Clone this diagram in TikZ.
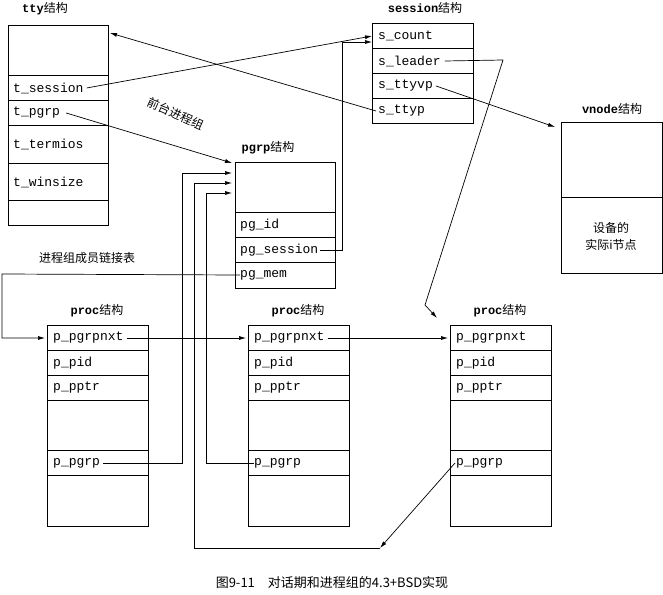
\documentclass[tikz,border=0pt]{standalone}
\usepackage{fontspec}
\setmonofont{Liberation Mono}
\newfontfamily\cjk{Noto Sans CJK SC}
\usetikzlibrary{arrows.meta}
\begin{document}
\begin{tikzpicture}[x=1pt,y=-1pt,
  fld/.style={anchor=west,font=\fontsize{13}{13}\selectfont\ttfamily,inner sep=0pt},
  ttl/.style={font=\fontsize{12}{12}\selectfont},
  box/.style={draw,line width=0.8pt},
  arr/.style={-{Latex[length=7pt,width=4pt]},line width=0.7pt},
  ln/.style={line width=0.7pt}]
\useasboundingbox (0,0) rectangle (663,594);
% tty
\node[ttl] (ttyt) at (45,9) {\ttfamily\bfseries tty\cjk\mdseries 结构};
\draw[box] (8,25) rectangle (108,225);
\foreach \y in {75,100,125,163,200} \draw[box] (8,\y)--(108,\y);
\node[fld] (tsess) at (13,88) {t\_session};
\node[fld] (tpgrp) at (13,113) {t\_pgrp};
\node[fld] (tterm) at (13,144) {t\_termios};
\node[fld] (twin) at (13,182) {t\_winsize};
\coordinate (ttytop) at (110,33);
% session
\node[ttl] (sesst) at (425,8) {\ttfamily\bfseries session\cjk\mdseries 结构};
\draw[box] (372,23) rectangle (473,123);
\foreach \y in {48,73,98} \draw[box] (372,\y)--(473,\y);
\node[fld] (scount) at (378,36) {s\_count};
\node[fld] (sleader) at (378,61) {s\_leader};
\node[fld] (sttyvp) at (378,86) {s\_ttyvp};
\node[fld] (sttyp) at (378,111) {s\_ttyp};
% vnode
\node[ttl] (vnodet) at (612,109) {\ttfamily\bfseries vnode\cjk\mdseries 结构};
\draw[box] (561,122) rectangle (662,273);
\draw[box] (561,197)--(662,197);
\node[align=center,font=\cjk\fontsize{12}{17}\selectfont] (vtxt) at (611,236) {设备的\\实际i节点};
% pgrp
\node[ttl] (pgrpt) at (268,148) {\ttfamily\bfseries pgrp\cjk\mdseries 结构};
\draw[box] (235,162) rectangle (335,288);
\foreach \y in {212,237,262} \draw[box] (235,\y)--(335,\y);
\node[fld] (pgid) at (240,225) {pg\_id};
\node[fld] (pgsess) at (240,250) {pg\_session};
\node[fld] (pgmem) at (240,275) {pg\_mem};
% procs
\foreach \n/\x in {1/47,2/248,3/450}{
  \node[ttl] (proct\n) at (\x+50,311) {\ttfamily\bfseries proc\cjk\mdseries 结构};
  \draw[box] (\x,325) rectangle (\x+101,526);
  \foreach \y in {350,375,400,450,475} \draw[box] (\x,\y)--(\x+101,\y);
  \node[fld] (pnxt\n) at (\x+6,338) {p\_pgrpnxt};
  \node[fld] (ppid\n) at (\x+6,363) {p\_pid};
  \node[fld] (ppptr\n) at (\x+6,388) {p\_pptr};
  \node[fld] (ppgrp\n) at (\x+6,463) {p\_pgrp};
}
\node[font=\cjk\fontsize{12}{12}\selectfont] (memlbl) at (87,258) {进程组成员链接表};
\node[font=\cjk\fontsize{12}{12}\selectfont,rotate=-24,inner sep=1pt] (fglbl) at (176,114) {前台进程组};
\node[font=\cjk\fontsize{13}{13}\selectfont] (cap) at (332,583) {图9-11\quad 对话期和进程组的4.3+BSD实现};
% connectors
\draw[arr] ([xshift=3pt]tsess.east) -- (372,36);
\draw[arr] ([xshift=-2pt]sttyp.west) -- (ttytop);
\draw[arr] ([xshift=6pt]tpgrp.east) -- (232,163);
\draw[arr] ([xshift=2pt]pgsess.east) -- (342,250) -- (342,42) -- (372,42);
\draw[ln] ([xshift=4pt]sleader.east) -- (503,60) -- (425,305);
\draw[arr] (425,305) -- (437,318);
\draw[arr] ([xshift=3pt]sttyvp.east) -- (555,127);
\draw[arr] (pgmem.west) -- (2,274) -- (2,338) -- (45,338);
\draw[arr] ([xshift=3pt]pnxt1.east) -- (246,338);
\draw[arr] ([xshift=3pt]pnxt2.east) -- (448,338);
\draw[arr] ([xshift=3pt]ppgrp1.east) -- (182,463) -- (182,173) -- (232,173);
\draw[arr] (ppgrp2.west) -- (206,463) -- (206,193) -- (232,193);
\draw[arr] ([xshift=-1pt]ppgrp3.west) -- (380,548);
\draw[arr] (380,548) -- (194,548) -- (194,183) -- (232,183);
\end{tikzpicture}
\end{document}
